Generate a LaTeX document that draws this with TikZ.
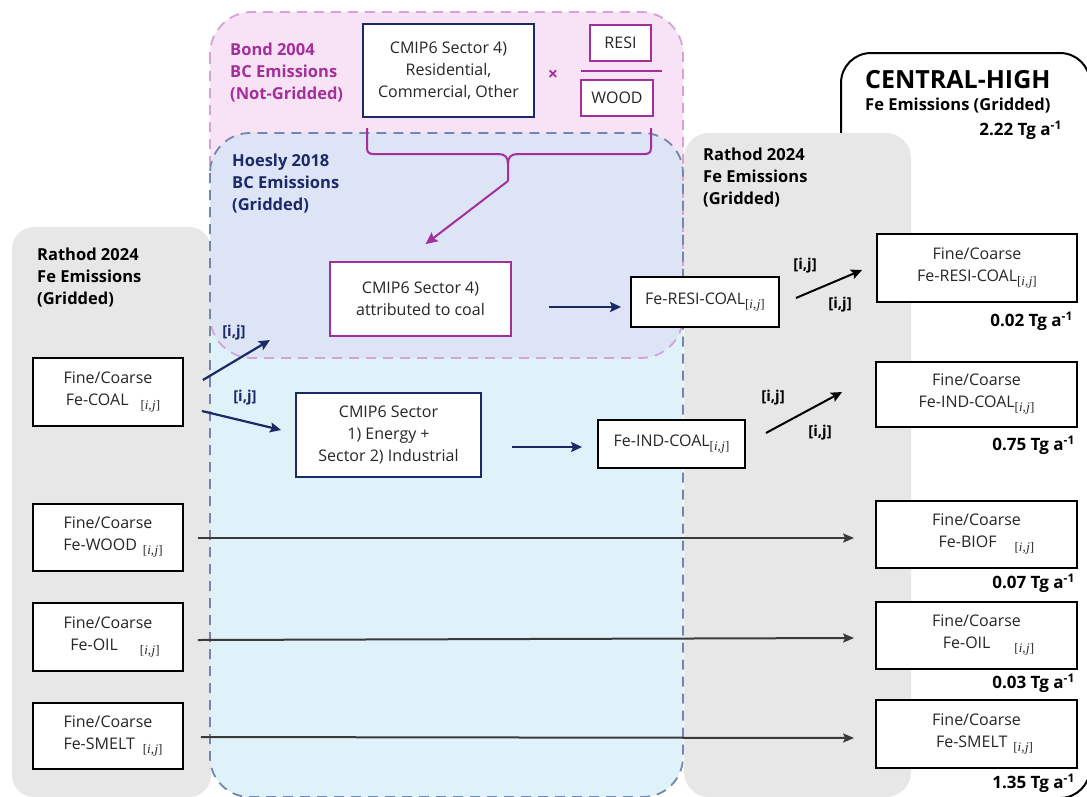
\documentclass[tikz,border=0pt]{standalone}
\usepackage{fontspec}
\setmainfont{Open Sans}
\newfontfamily\ijfont{Liberation Serif}
\usetikzlibrary{arrows.meta,calc}
\definecolor{navy}{HTML}{1B2A66}
\definecolor{mag}{HTML}{A3309A}
\definecolor{pinkfill}{HTML}{F8E2F6}
\definecolor{lavfill}{HTML}{DCE4F6}
\definecolor{cyanfill}{HTML}{DFF2FA}
\definecolor{grayfill}{HTML}{E7E7E7}
\definecolor{pinkdash}{HTML}{D8A2D4}
\definecolor{bluedash}{HTML}{7187B0}
\definecolor{arrowgray}{HTML}{3A3A3A}
\definecolor{boxtext}{HTML}{262626}
\newcommand{\ijsub}{\raisebox{-4pt}{\ijfont\fontsize{13}{13}\selectfont[\textit{i},\kern0.5pt\textit{j}]}}
\begin{document}
\begin{tikzpicture}[x=1pt,y=-1pt,
 box/.style={draw=black, line width=1.8pt, fill=white, inner sep=0pt, align=center, text=boxtext, font=\fontsize{16}{22}\selectfont},
 navybox/.style={box, draw=navy},
 magbox/.style={box, draw=mag},
 head/.style={font=\fontsize{16.5}{22}\selectfont\bfseries, align=left, inner sep=0pt, anchor=west},
 ijlab/.style={font=\fontsize{15}{15}\selectfont\bfseries, inner sep=0pt},
 tg/.style={font=\fontsize{17}{17}\selectfont\bfseries, inner sep=0pt, anchor=east},
 narrow/.style={-{Stealth[length=11pt,width=10pt,inset=2pt]}, line width=2.2pt, navy},
 karrow/.style={-{Stealth[length=11pt,width=10pt,inset=2pt]}, line width=2pt, black},
 garrow/.style={-{Stealth[length=11pt,width=9pt,inset=2pt]}, line width=2pt, arrowgray},
 marrow/.style={-{Stealth[length=12pt,width=11pt,inset=2pt]}, line width=2pt, mag},
 dashline/.style={line width=1.8pt, dash pattern=on 10pt off 7pt},
]
\useasboundingbox (0,0) rectangle (1087,796);
% central-high frame
\draw[line width=2pt, fill=white, rounded corners=30pt] (841,53) rectangle (1090,798);
% gray panels
\fill[grayfill, rounded corners=25pt] (684,133) rectangle (911,797);
\fill[grayfill, rounded corners=22pt] (12,227) rectangle (211,797);
% pink and blue regions
\fill[pinkfill, rounded corners=42pt] (210,12) rectangle (683,358);
\fill[cyanfill, rounded corners=40pt] (210,133) rectangle (683,797);
\begin{scope}
\clip[rounded corners=42pt] (210,12) rectangle (683,358);
\fill[lavfill, rounded corners=40pt] (210,133) rectangle (683,797);
\end{scope}
\draw[pinkdash, dashline, rounded corners=42pt] (210,12) rectangle (683,358);
\draw[bluedash, dashline, rounded corners=40pt] (210,133) rectangle (683,797);

% headings
\node[head, text=mag] (bondt) at (230,72.5) {Bond 2004\\BC Emissions\\(Not-Gridded)};
\node[head, text=navy] (hoest) at (232,184) {Hoesly 2018\\BC Emissions\\(Gridded)};
\node[head] (rathl) at (37,278) {Rathod 2024\\Fe Emissions\\(Gridded)};
\node[head] (rathr) at (703,177.5) {Rathod 2024\\Fe Emissions\\(Gridded)};
\node[font=\fontsize{25}{25}\selectfont\bfseries, anchor=west, inner sep=0pt] (chtitle) at (865,80) {CENTRAL-HIGH};
\node[font=\fontsize{16.5}{16.5}\selectfont\bfseries, anchor=west, inner sep=0pt] (chsub) at (865,106) {Fe Emissions (Gridded)};
\node[tg] (chtg) at (1062,130) {2.22 Tg a\textsuperscript{-1}};

% Bond row
\node[navybox, minimum width=171pt, minimum height=93pt] (sec4) at (448.5,70.5) {CMIP6 Sector 4)\\Residential,\\Commercial, Other};
\node[font=\fontsize{18}{18}\selectfont\bfseries, text=mag, inner sep=0pt] (times) at (553,75) {×};
\node[magbox, minimum width=61pt, minimum height=36pt] (resi) at (620.5,43) {RESI};
\node[magbox, minimum width=72pt, minimum height=36pt] (wood) at (617,98) {WOOD};
\draw[mag, line width=2pt] (581,71) -- (662,71);

% brace
\coordinate (bracetip) at (508,181);
\draw[mag, line width=2pt, line join=round] (367,128) -- (367,148) .. controls (367,152) and (369,154) .. (373,154) -- (498,154) .. controls (505,154) and (508,157) .. (508,164) -- (bracetip);
\draw[mag, line width=2pt, line join=round] (651,128) -- (651,148) .. controls (651,152) and (649,154) .. (645,154) -- (518,154) .. controls (511,154) and (508,157) .. (508,164);

% middle boxes
\node[magbox, minimum width=181pt, minimum height=74pt] (attr) at (420.5,299) {CMIP6 Sector 4)\\attributed to coal};
\node[box, minimum width=148pt, minimum height=50pt] (ferc) at (705,302) {Fe-RESI-COAL\ijsub};
\node[navybox, minimum width=185pt, minimum height=84pt] (sec12) at (388.5,435) {CMIP6 Sector\\1) Energy +\\Sector 2) Industrial};
\node[box, minimum width=147pt, minimum height=48pt] (feic) at (671.5,444) {Fe-IND-COAL\ijsub};

% left boxes
\node[box, minimum width=150pt, minimum height=68pt] (coal) at (108,392) {Fine/Coarse\\\hspace*{10pt}Fe-COAL\hspace{12pt}\ijsub};
\node[box, minimum width=150pt, minimum height=67pt] (woodl) at (108,537.5) {Fine/Coarse\\\hspace*{10pt}Fe-WOOD\hspace{6pt}\ijsub};
\node[box, minimum width=150pt, minimum height=68pt] (oill) at (108,637) {Fine/Coarse\\\hspace*{14pt}Fe-OIL\hspace{22pt}\ijsub};
\node[box, minimum width=150pt, minimum height=66pt] (smeltl) at (108,736) {Fine/Coarse\\\hspace*{10pt}Fe-SMELT\hspace{8pt}\ijsub};

% right boxes
\node[box, minimum width=200pt, minimum height=68pt] (outrc) at (977,268) {Fine/Coarse\\Fe-RESI-COAL\ijsub};
\node[box, minimum width=201pt, minimum height=65pt] (outic) at (976.5,394.5) {Fine/Coarse\\Fe-IND-COAL\ijsub};
\node[box, minimum width=201pt, minimum height=67pt] (biof) at (976.5,534.5) {Fine/Coarse\\\hspace*{20pt}Fe-BIOF\hspace{18pt}\ijsub};
\node[box, minimum width=201pt, minimum height=67pt] (oilr) at (976.5,635.5) {Fine/Coarse\\\hspace*{24pt}Fe-OIL\hspace{24pt}\ijsub};
\node[box, minimum width=201pt, minimum height=68pt] (smeltr) at (976.5,734) {Fine/Coarse\\\hspace*{16pt}Fe-SMELT\hspace{6pt}\ijsub};

% totals
\node[tg] (tgrc) at (1073,321) {0.02 Tg a\textsuperscript{-1}};
\node[tg] (tgic) at (1075,445) {0.75 Tg a\textsuperscript{-1}};
\node[tg] (tgbf) at (1075,583) {0.07 Tg a\textsuperscript{-1}};
\node[tg] (tgoil) at (1075,683) {0.03 Tg a\textsuperscript{-1}};
\node[tg] (tgsm) at (1075,783) {1.35 Tg a\textsuperscript{-1}};

% [i,j] labels
\node[ijlab, text=navy] (lab1) at (234,333) {[i,j]};
\node[ijlab, text=navy] (lab2) at (245,398) {[i,j]};
\node[ijlab] (lab3) at (805,266) {[i,j]};
\node[ijlab] (lab4) at (840,305) {[i,j]};
\node[ijlab] (lab5) at (773,398) {[i,j]};
\node[ijlab] (lab6) at (820,433) {[i,j]};

% connectors
\coordinate (coalup) at (270,340);
\draw[marrow] (bracetip) -- ($(attr.north)+(5,-17)$);
\draw[narrow] ($(coal.east)+(19,-12)$) -- (coalup);
\draw[narrow] ($(coal.east)+(18,19)$) -- ($(sec12.west)+(-14,-5)$);
\draw[narrow] ($(attr.east)+(37,8)$) -- ($(ferc.west)+(-9,5)$);
\draw[narrow] ($(sec12.east)+(30,12)$) -- ($(feic.west)+(-15,3)$);
\draw[karrow] ($(ferc.east)+(16,-4)$) -- ($(outrc.west)+(-14,2)$);
\draw[karrow] ($(feic.east)+(20,-11)$) -- ($(outic.west)+(-33,-2.5)$);
\draw[garrow] ($(woodl.east)+(14,0.5)$) -- ($(biof.west)+(-21,3.5)$);
\draw[garrow] ($(oill.east)+(14,3)$) -- ($(oilr.west)+(-21,2.5)$);
\draw[garrow] ($(smeltl.east)+(17,1)$) -- ($(smeltr.west)+(-21,4)$);
\end{tikzpicture}
\end{document}
